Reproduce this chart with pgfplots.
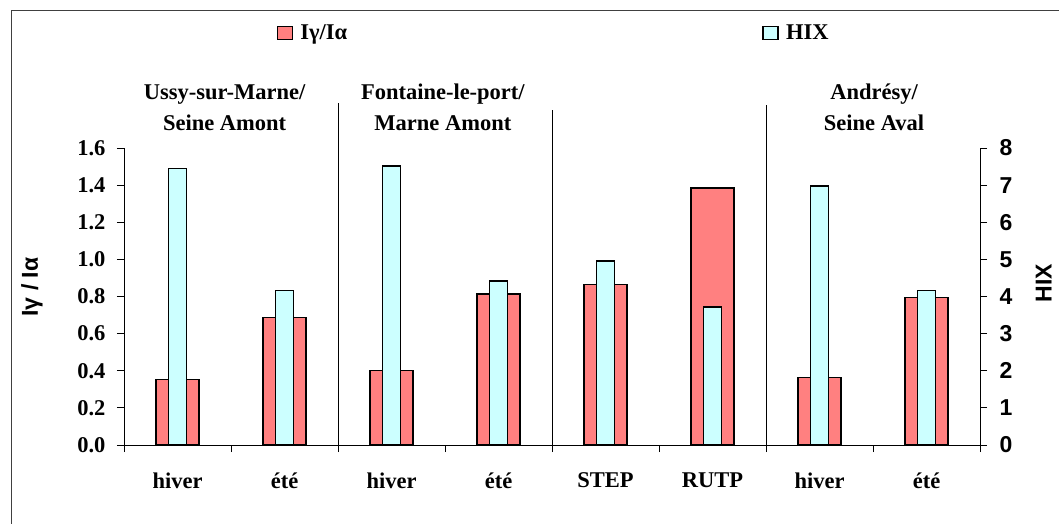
\documentclass[border=0pt]{standalone}
\usepackage{pgfplots}
\pgfplotsset{compat=1.18}
\usepackage{fontspec}
\setmainfont{Liberation Serif}
\setsansfont{Liberation Sans}
\definecolor{redbar}{RGB}{255,128,128}
\definecolor{cyanbar}{RGB}{204,255,255}
\newcommand{\sz}{\fontsize{22.5}{27}\selectfont\bfseries}
\newcommand{\ssz}{\fontsize{23}{27}\selectfont\sffamily\bfseries}
\pgfplotsset{sqlegend/.style={legend image code/.code={\draw[##1] (0pt,-6.5pt) rectangle (15pt,6.5pt); \path[draw=none,fill=none] (0pt,0pt) -- (21pt,0pt);}}}
\begin{document}
\begin{tikzpicture}[x=1pt,y=1pt]
\path[use as bounding box] (0,0) rectangle (1059,524);
\draw[line width=1pt, black!75] (11,0) -- (11,513) -- (1059,513);
\begin{axis}[
  at={(124pt,79pt)}, anchor=south west,
  scale only axis, width=856pt, height=297pt,
  xmin=-0.5, xmax=7.5, ymin=0, ymax=1.6,
  axis x line*=bottom, axis y line*=left,
  axis line style={line width=0.8pt},
  clip=false,
  tick align=outside,
  xtick={0,...,7},
  xticklabels={hiver,été,hiver,été,STEP,RUTP,hiver,été},
  major x tick style={draw=none},
  minor xtick={-0.5,0.5,1.5,2.5,3.5,4.5,5.5,6.5,7.5},
  minor tick length=7pt, major tick length=7pt,
  tick style={line width=0.8pt, black},
  xticklabel style={font=\sz, yshift=-17pt},
  ytick={0,0.2,0.4,0.6,0.8,1.0,1.2,1.4,1.6},
  yticklabel style={font=\sz, xshift=-8pt, /pgf/number format/.cd, fixed, fixed zerofill, precision=1, assume math mode=true},
  ylabel={Iγ / Iα},
  ylabel style={font=\ssz, at={(axis description cs:-0.1075,0.532)}, anchor=center},
  legend columns=2,
  legend style={draw=none, fill=none, font=\sz, at={(axis description cs:0.178,1.387)}, anchor=west, inner sep=0pt},
  /tikz/every even column/.append style={column sep=413pt},
]
\addplot[ybar, bar width=43pt, fill=redbar, draw=black, line width=1.6pt, sqlegend]
  coordinates {(0,0.352) (1,0.686) (2,0.401) (3,0.815) (4,0.864) (5,1.384) (6,0.363) (7,0.795)};
\addlegendentry{Iγ/Iα}
\addlegendimage{fill=cyanbar, draw=black, line width=1.6pt, sqlegend}
\addlegendentry{HIX}
\draw[line width=1pt] (axis cs:1.5,0) -- (axis cs:1.5,1.842);
\draw[line width=1pt] (axis cs:3.5,0) -- (axis cs:3.5,1.805);
\draw[line width=1pt] (axis cs:5.5,0) -- (axis cs:5.5,1.832);
\node[font=\sz, anchor=base] at (axis cs:0.44,1.859) {Ussy-sur-Marne/};
\node[font=\sz, anchor=base] at (axis cs:0.44,1.692) {Seine Amont};
\node[font=\sz, anchor=base] at (axis cs:2.48,1.859) {Fontaine-le-port/};
\node[font=\sz, anchor=base] at (axis cs:2.48,1.692) {Marne Amont};
\node[font=\sz, anchor=base] at (axis cs:6.51,1.859) {Andrésy/};
\node[font=\sz, anchor=base] at (axis cs:6.51,1.692) {Seine Aval};
\end{axis}
\begin{axis}[
  at={(124pt,79pt)}, anchor=south west,
  scale only axis, width=856pt, height=297pt,
  xmin=-0.5, xmax=7.5, ymin=0, ymax=8,
  axis x line=none, axis y line*=right,
  axis line style={line width=0.8pt},
  clip=false,
  tick align=outside,
  major tick length=7pt,
  tick style={line width=0.8pt, black},
  ytick={0,1,2,3,4,5,6,7,8},
  yticklabel style={font=\ssz, xshift=9pt, /pgf/number format/assume math mode=true},
  ylabel={HIX},
  ylabel style={font=\ssz, at={(axis description cs:1.0745,0.545)}, anchor=center},
]
\addplot[ybar, bar width=18pt, fill=cyanbar, draw=black, line width=1.6pt]
  coordinates {(0,7.45) (1,4.16) (2,7.52) (3,4.41) (4,4.96) (5,3.72) (6,6.98) (7,4.16)};
\end{axis}
\end{tikzpicture}
\end{document}
